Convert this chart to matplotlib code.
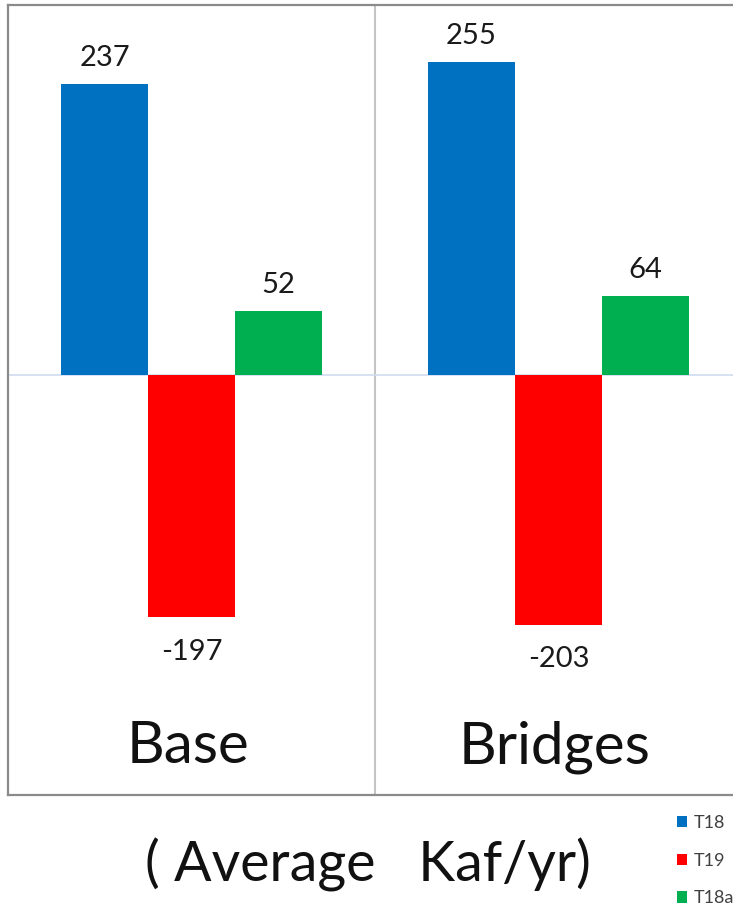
import matplotlib.pyplot as plt
import numpy as np

plt.rcParams['font.family'] = ['Lato', 'DejaVu Sans']

# values (Kaf/yr)
scenarios = ['Base', 'Bridges']
series = ['T18', 'T19', 'T18a']
t18 = [237, 255]
t19 = [-197, -203]
t18a = [52, 64]
colors = ['#0070c0', '#ff0000', '#00b050']

fig = plt.figure(figsize=(7.33, 9.09), dpi=100)
ax = fig.add_axes([8/733, 114/909, 734/733, 790/909])

x = np.arange(len(scenarios))
w = 0.237
bars = []
for i, (vals, c, name) in enumerate(zip([t18, t19, t18a], colors, series)):
    b = ax.bar(x + (i - 1) * w, vals, w, color=c, label=name, zorder=3)
    bars.append(b)
    for xi, v in zip(x + (i - 1) * w, vals):
        if v >= 0:
            ax.text(xi, v + 14.6, str(v), ha='center', va='baseline', fontsize=21, color='#1a1a1a')
        else:
            ax.text(xi, v - 34.5, str(v), ha='center', va='baseline', fontsize=21, color='#1a1a1a')

ax.axhline(0, color='#cfdcef', lw=1.2, zorder=2)
ax.axvline(0.5, color='#c4c4c4', lw=1.5, zorder=1)

for xi, s in zip(x, scenarios):
    ax.text(xi - 0.01, -315.5, s, ha='center', va='baseline', fontsize=42, color='#111111')

ax.set_xlim(-0.5, 1.5)
ax.set_ylim(-341.5, 301)
ax.set_xticks([])
ax.set_yticks([])
for sp in ax.spines.values():
    sp.set_color('#8a8a8a')
    sp.set_linewidth(1.6)

fig.text(368/733, 1 - 882/909, '( Average   Kaf/yr)', ha='center', va='baseline',
         fontsize=40, color='#111111')

# legend sits at the lower right, partly past the edge
fig.legend(handles=bars, labels=series, loc='upper left',
           bbox_to_anchor=(668/733, 1 - 806/909), frameon=False,
           fontsize=13, handlelength=0.55, handleheight=0.6, handletextpad=0.35,
           labelspacing=1.2, labelcolor='#404040', borderpad=0)

fig.savefig('out.png', dpi=100)
